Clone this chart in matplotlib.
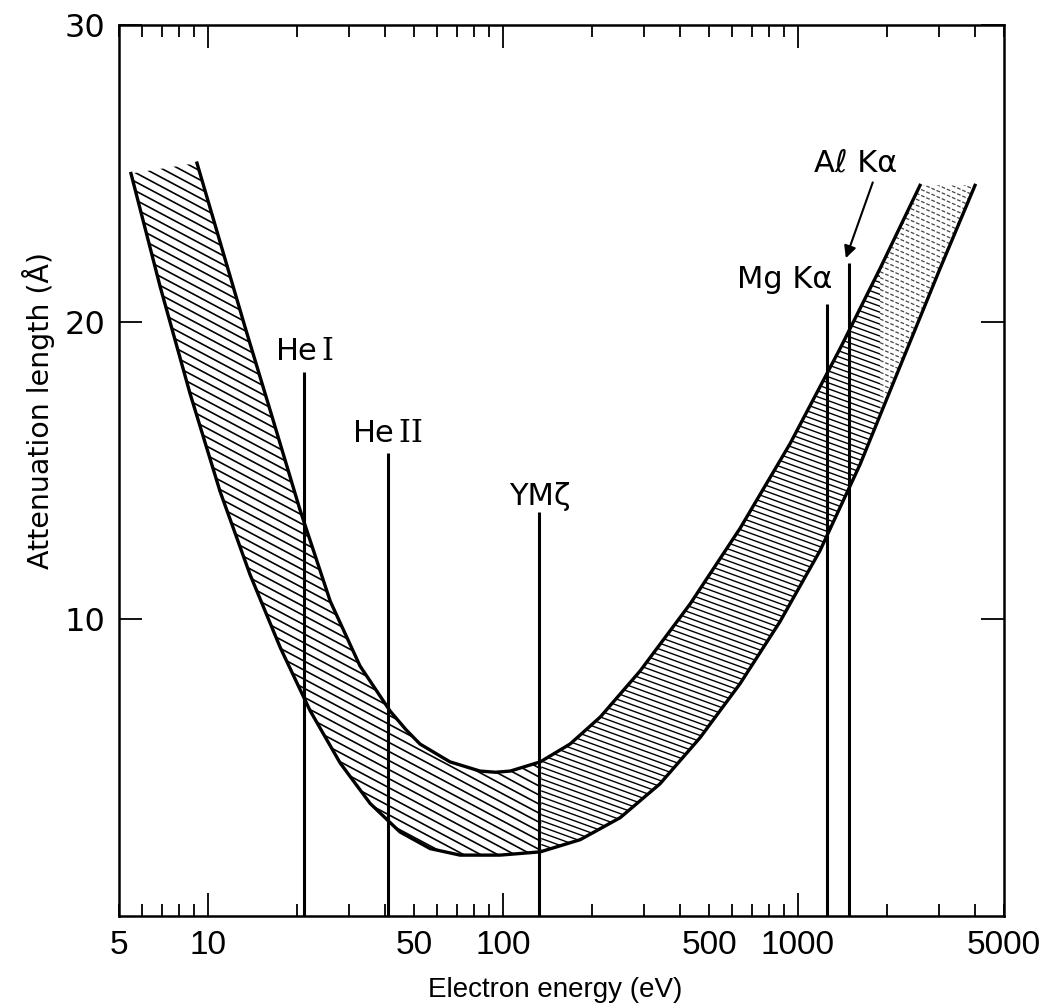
import numpy as np
import matplotlib
matplotlib.use('Agg')
import matplotlib.pyplot as plt
from matplotlib.collections import LineCollection
from matplotlib.ticker import FixedLocator, FuncFormatter

plt.rcParams['font.family'] = ['DejaVu Sans']
plt.rcParams['mathtext.fontset'] = 'custom'
plt.rcParams['mathtext.rm'] = 'DejaVu Serif'
NARROW = ['Liberation Sans', 'DejaVu Sans']

# band edges: electron energy (eV) vs attenuation length (A)
lower_E = [5.49, 6.89, 8.70, 11.0, 13.9, 17.6, 22.2, 28.1, 35.5, 44.8, 56.7, 71.6,
           97.8, 134, 183, 250, 341, 466, 637, 870, 1189, 1625, 2220, 3035, 3987]
lower_L = [25.0, 21.2, 17.6, 14.3, 11.5, 9.04, 6.92, 5.15, 3.79, 2.83, 2.27, 2.05,
           2.05, 2.16, 2.57, 3.31, 4.45, 6.0, 7.82, 9.91, 12.3, 15.2, 18.5, 21.8, 24.6]
upper_E = [9.19, 11.0, 13.4, 16.3, 20.5, 26.0, 32.8, 41.5, 47.0, 52.4, 66.2, 83.7, 94.5,
           106, 134, 169, 214, 292, 431, 637, 941, 1390, 1900, 2596]
upper_L = [25.35, 22.7, 19.8, 17.0, 13.7, 10.6, 8.42, 6.90, 6.27, 5.79, 5.19, 4.88, 4.84,
           4.88, 5.19, 5.79, 6.70, 8.25, 10.5, 13.05, 15.9, 19.1, 21.8, 24.6]

# photon source lines (energy, height of the marker line)
source_E = [21.2, 40.8, 132.3, 1253.6, 1486.6]
source_top = [18.3, 15.6, 13.6, 20.6, 22.0]

major_ticks = [10, 100, 1000]
minor_ticks = [5, 6, 7, 8, 9, 20, 30, 40, 50, 60, 70, 80, 90,
               200, 300, 400, 500, 600, 700, 800, 900, 2000, 3000, 4000, 5000]
minor_labels = {5: '5', 50: '50', 500: '500', 5000: '5000'}

fig = plt.figure(figsize=(10.56, 10.08), dpi=100)
ax = fig.add_axes([119 / 1056, 92 / 1008, 885 / 1056, 891 / 1008])
ax.set_xscale('log')
ax.set_xlim(5, 5000)
ax.set_ylim(0, 30)

# band outline (invisible patch, used to clip the hatching)
band = ax.fill(np.r_[upper_E, lower_E[::-1]], np.r_[upper_L, lower_L[::-1]],
               facecolor='none', edgecolor='none')[0]


def hatch(e0, e1, angle, gap, **kw):
    # slanted hatch lines between two energies, drawn in pixel space
    x0 = ax.transData.transform((e0, 1))[0]
    x1 = ax.transData.transform((e1, 1))[0]
    ybot = ax.transAxes.transform((0, 0))[1]
    ytop = ax.transAxes.transform((0, 1))[1]
    t = np.tan(np.radians(angle))
    step = gap / np.cos(np.radians(angle))
    inv = ax.transAxes.inverted()
    segs = []
    for c in np.arange(ybot, ytop + t * (x1 - x0) + step, step):
        segs.append(inv.transform([(x0, c), (x1, c - t * (x1 - x0))]))
    lc = LineCollection(segs, transform=ax.transAxes, **kw)
    ax.add_collection(lc)
    lc.set_clip_path(band)


hatch(5, 135, 28, 8.0, colors='black', linewidths=1.2)
hatch(135, 1900, 20, 5.6, colors='black', linewidths=1.0)
hatch(1900, 5000, 24, 5.4, colors='#444444', linewidths=0.9, linestyles=(0, (3, 1.5)))

ax.plot(lower_E, lower_L, color='black', lw=2.4, solid_joinstyle='round')
ax.plot(upper_E, upper_L, color='black', lw=2.4, solid_joinstyle='round')
ax.vlines(source_E, 0, source_top, color='black', lw=2.2)

lab_kw = dict(fontsize=22, va='baseline')
ax.text(21.2, 18.72, r'He$\,\mathrm{I}$', ha='center', **lab_kw)
ax.text(40.8, 15.96, r'He$\,\mathrm{II}$', ha='center', **lab_kw)
ax.text(134, 13.84, 'YMζ', ha='center', **lab_kw)
ax.text(1310, 21.15, 'Mg Kα', ha='right', **lab_kw)
ax.text(1566, 25.05, 'Aℓ Kα', ha='center', **lab_kw)
ax.annotate('', xy=(1455, 22.15), xytext=(1795, 24.7),
            arrowprops=dict(arrowstyle='-|>', lw=1.5, color='black',
                            mutation_scale=18, shrinkA=0, shrinkB=0))

# axes styling
for sp in ax.spines.values():
    sp.set_linewidth(1.8)
ax.xaxis.set_major_locator(FixedLocator(major_ticks))
ax.xaxis.set_minor_locator(FixedLocator(minor_ticks))
ax.xaxis.set_major_formatter(FuncFormatter(lambda v, p: '%d' % v))
ax.xaxis.set_minor_formatter(FuncFormatter(lambda v, p: minor_labels.get(int(round(v)), '')))
ax.set_yticks([10, 20, 30])
ax.tick_params(which='both', direction='in', top=True, right=True,
               labelsize=23, pad=10, width=1.3)
ax.tick_params(which='major', length=16.5)
ax.tick_params(which='minor', length=8.5)
for lab in ax.get_xticklabels(which='both'):
    lab.set_family(NARROW)
    lab.set_fontsize(24)

ax.set_xlabel('Electron energy (eV)', fontsize=20, family=NARROW)
ax.set_ylabel('Attenuation length (Å)', fontsize=20.5)
ax.xaxis.set_label_coords(0.493, -0.068)
ax.yaxis.set_label_coords(-0.072, 0.567)

fig.savefig('out.png', dpi=100)
